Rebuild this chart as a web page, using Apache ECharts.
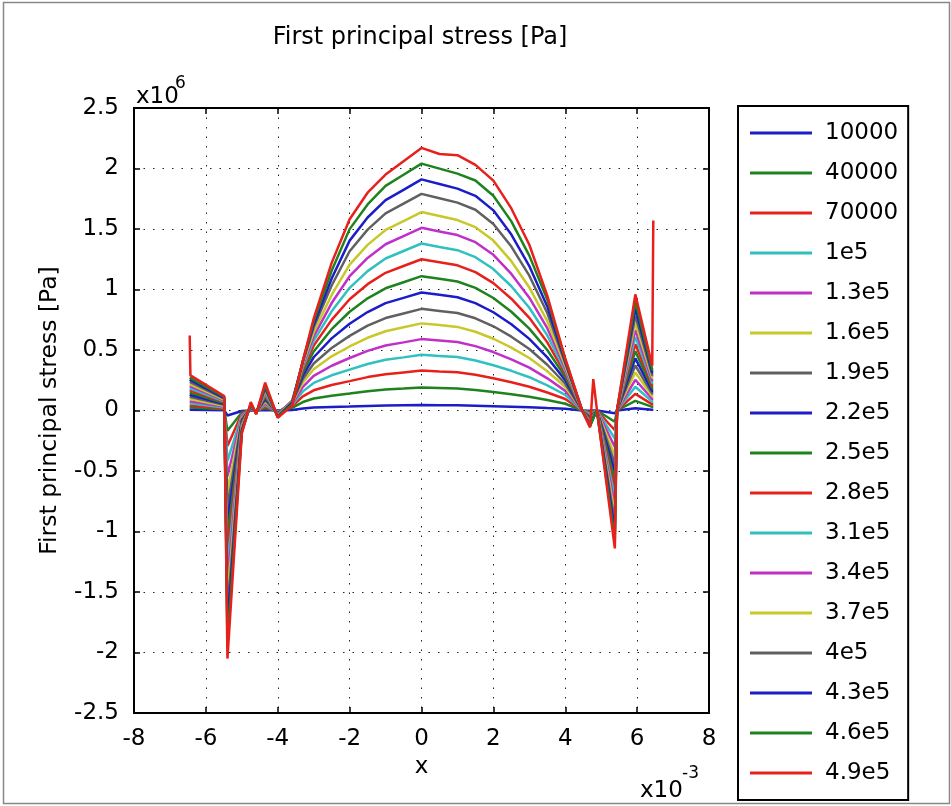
<!DOCTYPE html>
<html>
<head>
<meta charset="utf-8">
<script src="https://cdn.jsdelivr.net/npm/echarts@6/dist/echarts.min.js"></script>
<style>
html,body{margin:0;padding:0;background:#fff;}
#chart{width:951px;height:806px;}
</style>
</head>
<body>
<div id="chart"></div>
<script>
// x positions (x10^-3)
const xPos = [-6.45,-6.43,-5.49,-5.40,-5.0,-4.75,-4.6,-4.35,-4.0,-3.6,-3.3,-3.0,-2.5,-2.0,-1.5,-1.0,-0.5,0,0.5,1.0,1.5,2.0,2.5,3.0,3.5,4.0,4.47,4.69,4.78,4.88,5.38,5.44,5.95,6.42,6.45];

// series values (x10^6 Pa)
const s10000 = [0.006,0.006,0.002,-0.041,-0.004,0.001,-0.001,0.004,-0.001,0.005,0.017,0.024,0.029,0.033,0.038,0.041,0.043,0.045,0.044,0.043,0.040,0.036,0.032,0.027,0.020,0.014,0,-0.003,-0.001,0,-0.023,0,0.019,0.007,0.007];
const s40000 = [0.024,0.024,0.010,-0.168,-0.016,0.005,-0.002,0.018,-0.005,0.022,0.070,0.099,0.122,0.140,0.159,0.173,0.181,0.190,0.186,0.182,0.170,0.153,0.134,0.113,0.086,0.056,0,-0.011,-0.006,0,-0.093,0,0.079,0.030,0.030];
const s70000 = [0.041,0.041,0.017,-0.293,-0.027,0.009,-0.004,0.031,-0.009,0.035,0.117,0.167,0.211,0.243,0.276,0.300,0.315,0.330,0.323,0.317,0.296,0.267,0.234,0.196,0.149,0.095,0,-0.020,-0.010,0,-0.163,0,0.137,0.051,0.051];
const s1e5 = [0.059,0.059,0.024,-0.418,-0.039,0.012,-0.006,0.045,-0.012,0.046,0.158,0.228,0.291,0.338,0.384,0.419,0.439,0.460,0.451,0.442,0.413,0.374,0.328,0.275,0.207,0.129,0,-0.029,-0.014,0,-0.233,0,0.196,0.073,0.073];
const s1_3e5 = [0.077,0.077,0.032,-0.543,-0.050,0.016,-0.008,0.058,-0.016,0.056,0.196,0.286,0.370,0.434,0.493,0.537,0.563,0.590,0.578,0.566,0.532,0.483,0.423,0.354,0.266,0.162,0,-0.037,-0.019,0,-0.302,0,0.254,0.095,0.095];
const s1_6e5 = [0.095,0.095,0.039,-0.670,-0.062,0.020,-0.010,0.072,-0.020,0.064,0.231,0.341,0.448,0.529,0.601,0.655,0.688,0.720,0.706,0.691,0.651,0.593,0.520,0.434,0.324,0.194,0,-0.046,-0.023,0,-0.373,0,0.314,0.118,0.118];
const s1_9e5 = [0.113,0.113,0.047,-0.795,-0.074,0.023,-0.012,0.085,-0.023,0.069,0.260,0.389,0.517,0.617,0.701,0.764,0.802,0.840,0.823,0.806,0.762,0.696,0.610,0.508,0.378,0.221,0,-0.054,-0.027,0,-0.442,0,0.372,0.140,0.140];
const s2_2e5 = [0.130,0.130,0.054,-0.920,-0.085,0.027,-0.013,0.099,-0.027,0.074,0.290,0.440,0.596,0.717,0.814,0.887,0.931,0.975,0.956,0.936,0.887,0.812,0.713,0.592,0.439,0.250,0,-0.063,-0.031,0,-0.512,0,0.431,0.162,0.162];
const s2_5e5 = [0.148,0.148,0.061,-1.046,-0.097,0.031,-0.015,0.112,-0.031,0.078,0.316,0.488,0.672,0.816,0.927,1.010,1.060,1.110,1.088,1.066,1.013,0.930,0.816,0.677,0.500,0.278,0,-0.071,-0.036,0,-0.581,0,0.490,0.184,0.184];
const s2_8e5 = [0.166,0.166,0.069,-1.171,-0.108,0.034,-0.017,0.126,-0.034,0.080,0.341,0.536,0.749,0.919,1.044,1.138,1.194,1.250,1.225,1.200,1.144,1.053,0.924,0.766,0.563,0.305,0,-0.080,-0.040,0,-0.651,0,0.548,0.206,0.206];
const s3_1e5 = [0.184,0.184,0.076,-1.298,-0.120,0.038,-0.019,0.139,-0.038,0.079,0.360,0.576,0.820,1.014,1.152,1.256,1.318,1.380,1.352,1.325,1.267,1.169,1.027,0.849,0.621,0.328,0,-0.089,-0.044,0,-0.722,0,0.608,0.228,0.228];
const s3_4e5 = [0.201,0.201,0.083,-1.423,-0.132,0.042,-0.021,0.153,-0.042,0.077,0.376,0.613,0.888,1.110,1.261,1.374,1.442,1.510,1.480,1.450,1.391,1.287,1.129,0.932,0.680,0.349,0,-0.097,-0.049,0,-0.791,0,0.666,0.250,0.250];
const s3_7e5 = [0.219,0.219,0.091,-1.548,-0.143,0.045,-0.023,0.166,-0.045,0.074,0.390,0.648,0.955,1.205,1.369,1.492,1.566,1.640,1.607,1.574,1.515,1.404,1.234,1.017,0.738,0.369,0,-0.106,-0.053,0,-0.861,0,0.725,0.272,0.272];
const s4e5 = [0.237,0.237,0.098,-1.673,-0.155,0.049,-0.024,0.180,-0.049,0.070,0.405,0.687,1.033,1.316,1.495,1.629,1.709,1.790,1.754,1.718,1.659,1.541,1.355,1.114,0.806,0.392,0,-0.114,-0.057,0,-0.930,0,0.783,0.294,0.294];
const s4_3e5 = [0.255,0.255,0.105,-1.800,-0.167,0.053,-0.026,0.193,-0.053,0.062,0.409,0.711,1.091,1.404,1.595,1.738,1.824,1.910,1.872,1.834,1.774,1.654,1.454,1.194,0.860,0.406,0,-0.123,-0.061,0,-1.001,0,0.843,0.316,0.316];
const s4_6e5 = [0.272,0.272,0.113,-1.925,-0.178,0.056,-0.028,0.207,-0.056,0.053,0.412,0.736,1.155,1.499,1.703,1.856,1.948,2.040,1.999,1.958,1.901,1.775,1.563,1.280,0.918,0.420,0,-0.131,-0.066,0,-1.070,0,0.901,0.338,0.338];
const s4_9e5 = [0.62,0.29,0.12,-2.05,-0.19,0.07,-0.03,0.23,-0.06,0.04,0.41,0.76,1.22,1.58,1.80,1.95,2.06,2.17,2.12,2.11,2.03,1.90,1.67,1.37,0.95,0.43,0,-0.14,0.26,0.01,-1.14,0,0.96,0.37,1.57];

const seriesNames = ['10000','40000','70000','1e5','1.3e5','1.6e5','1.9e5','2.2e5','2.5e5','2.8e5','3.1e5','3.4e5','3.7e5','4e5','4.3e5','4.6e5','4.9e5'];
const seriesValues = [s10000,s40000,s70000,s1e5,s1_3e5,s1_6e5,s1_9e5,s2_2e5,s2_5e5,s2_8e5,s3_1e5,s3_4e5,s3_7e5,s4e5,s4_3e5,s4_6e5,s4_9e5];
const palette = ['#1c1cc8','#1e821e','#e8201c','#30c0c0','#c030c8','#c8c82a','#606060'];

const FONT = 'DejaVu Sans';
const chart = echarts.init(document.getElementById('chart'), null, {renderer:'canvas'});

const series = seriesNames.map((n, i) => ({
  name: n,
  type: 'line',
  data: xPos.map((x, j) => [x, seriesValues[i][j]]),
  showSymbol: false,
  symbol: 'none',
  lineStyle: {width: 2.5, color: palette[i % palette.length]},
  itemStyle: {color: palette[i % palette.length]},
  emphasis: {disabled: true},
  animation: false,
  z: 2 + i
}));

const dotted = {show: true, lineStyle: {color: '#222', width: 1, type: [1.5, 8]}};

chart.setOption({
  animation: false,
  backgroundColor: '#fff',
  grid: {left: 134, right: 242, top: 108, bottom: 93, show: true, borderColor: '#000', borderWidth: 2, backgroundColor: 'transparent'},
  xAxis: [{
    type: 'value', min: -8, max: 8, interval: 2, position: 'bottom',
    name: 'x', nameLocation: 'middle', nameGap: 27,
    nameTextStyle: {fontFamily: FONT, fontSize: 23, color: '#000'},
    axisLine: {show: true, onZero: false, lineStyle: {color: '#000', width: 2}},
    axisTick: {show: true, inside: true, length: 6, lineStyle: {color: '#000', width: 1.5}},
    axisLabel: {fontFamily: FONT, fontSize: 23, color: '#000', margin: 15},
    splitLine: dotted
  },{
    type: 'value', min: -8, max: 8, interval: 2, position: 'top',
    axisLine: {show: true, onZero: false, lineStyle: {color: '#000', width: 2}},
    axisTick: {show: true, inside: true, length: 6, lineStyle: {color: '#000', width: 1.5}},
    axisLabel: {show: false}, splitLine: {show: false}
  }],
  yAxis: [{
    type: 'value', min: -2.5, max: 2.5, interval: 0.5, position: 'left',
    name: 'First principal stress [Pa]', nameLocation: 'middle', nameGap: 72,
    nameTextStyle: {fontFamily: FONT, fontSize: 23.5, color: '#000'},
    axisLine: {show: true, onZero: false, lineStyle: {color: '#000', width: 2}},
    axisTick: {show: true, inside: true, length: 6, lineStyle: {color: '#000', width: 1.5}},
    axisLabel: {fontFamily: FONT, fontSize: 23, color: '#000', margin: 15},
    splitLine: dotted
  },{
    type: 'value', min: -2.5, max: 2.5, interval: 0.5, position: 'right',
    axisLine: {show: true, onZero: false, lineStyle: {color: '#000', width: 2}},
    axisTick: {show: true, inside: true, length: 6, lineStyle: {color: '#000', width: 1.5}},
    axisLabel: {show: false}, splitLine: {show: false}
  }],
  legend: {
    orient: 'vertical', left: 738, top: 106,
    icon: 'rect', itemWidth: 62, itemHeight: 3, itemGap: 14,
    padding: [14, 10, 14, 12],
    borderColor: '#000', borderWidth: 2, backgroundColor: '#fff',
    selectedMode: false,
    textStyle: {fontFamily: FONT, fontSize: 23, color: '#000', lineHeight: 26, padding: [0, 0, 0, 8]},
    data: seriesNames
  },
  graphic: [
    {type: 'rect', silent: true, z: -10, shape: {x: 3.5, y: 2.5, width: 946, height: 801}, style: {fill: 'none', stroke: '#888', lineWidth: 1.5}},
    {type: 'text', x: 420, y: 38, style: {text: 'First principal stress [Pa]', font: '24px "DejaVu Sans"', fill: '#000', align: 'center', verticalAlign: 'middle'}},
    {type: 'text', x: 136, y: 97, style: {text: 'x10', font: '23px "DejaVu Sans"', fill: '#000', align: 'left', verticalAlign: 'middle'}},
    {type: 'text', x: 175, y: 84, style: {text: '6', font: '17px "DejaVu Sans"', fill: '#000', align: 'left', verticalAlign: 'middle'}},
    {type: 'text', x: 640, y: 791, style: {text: 'x10', font: '23px "DejaVu Sans"', fill: '#000', align: 'left', verticalAlign: 'middle'}},
    {type: 'text', x: 682, y: 774, style: {text: '-3', font: '17px "DejaVu Sans"', fill: '#000', align: 'left', verticalAlign: 'middle'}}
  ],
  series: series
});
</script>
</body>
</html>
